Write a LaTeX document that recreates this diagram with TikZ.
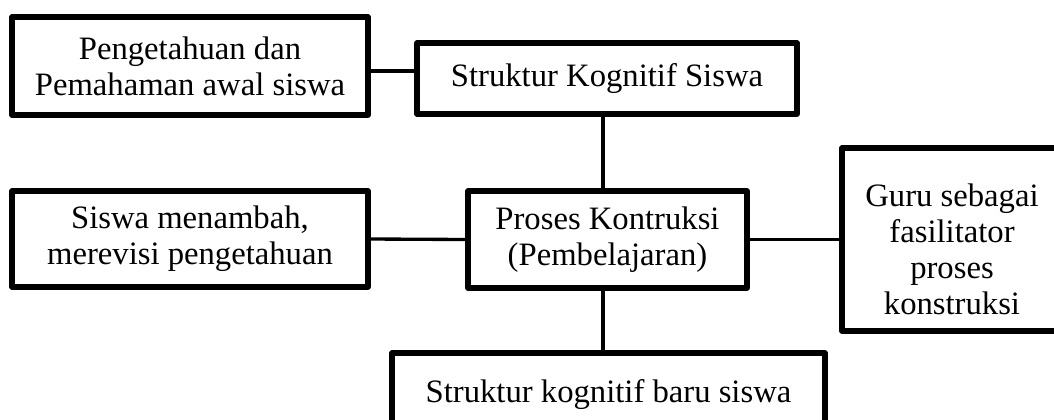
\documentclass[tikz,border=0pt]{standalone}
\usepackage{fontspec}
\setmainfont{Liberation Serif}
\begin{document}
\begin{tikzpicture}[x=0.75pt,y=-0.75pt,
  boxtext/.style={align=center, font=\fontsize{24.5}{27}\selectfont},
  box/.style={draw=black, line width=3.8pt, line join=round, fill=white,
    inner sep=0pt, boxtext},
  link/.style={draw=black, line width=2.5pt}]
\useasboundingbox (0,0) rectangle (1054,419);
\coordinate (c1) at (0,71);
\coordinate (vx) at (603,0);
\node[box, minimum width=356*0.75pt, minimum height=98*0.75pt] (pengetahuan) at (190,66) {Pengetahuan dan\\Pemahaman awal siswa};
\node[box, minimum width=380*0.75pt, minimum height=71*0.75pt] (struktur) at (607,78.5) {Struktur Kognitif Siswa};
\node[box, minimum width=356*0.75pt, minimum height=96*0.75pt] (siswa) at (190,239) {Siswa menambah,\\merevisi pengetahuan};
\node[box, minimum width=279*0.75pt, minimum height=97*0.75pt] (proses) at (607.5,239.5) {Proses Kontruksi\\(Pembelajaran)};
\node[box, minimum width=220*0.75pt, minimum height=183*0.75pt,
  label={[boxtext, yshift=-7.5pt]center:{Guru sebagai\\fasilitator\\proses\\konstruksi}}] (guru) at (952,239.5) {};
\node[box, minimum width=433*0.75pt, minimum height=84*0.75pt] (baru) at (608.5,395) {Struktur kognitif baru siswa};
\draw[link] (pengetahuan.east |- c1) -- (struktur.west |- c1);
\draw[link] (struktur.south -| vx) -- (proses.north -| vx);
\draw[link] (siswa.east) -- (proses.west);
\draw[link] (proses.east) -- (guru.west);
\draw[link] (proses.south -| vx) -- (baru.north -| vx);
\end{tikzpicture}
\end{document}
